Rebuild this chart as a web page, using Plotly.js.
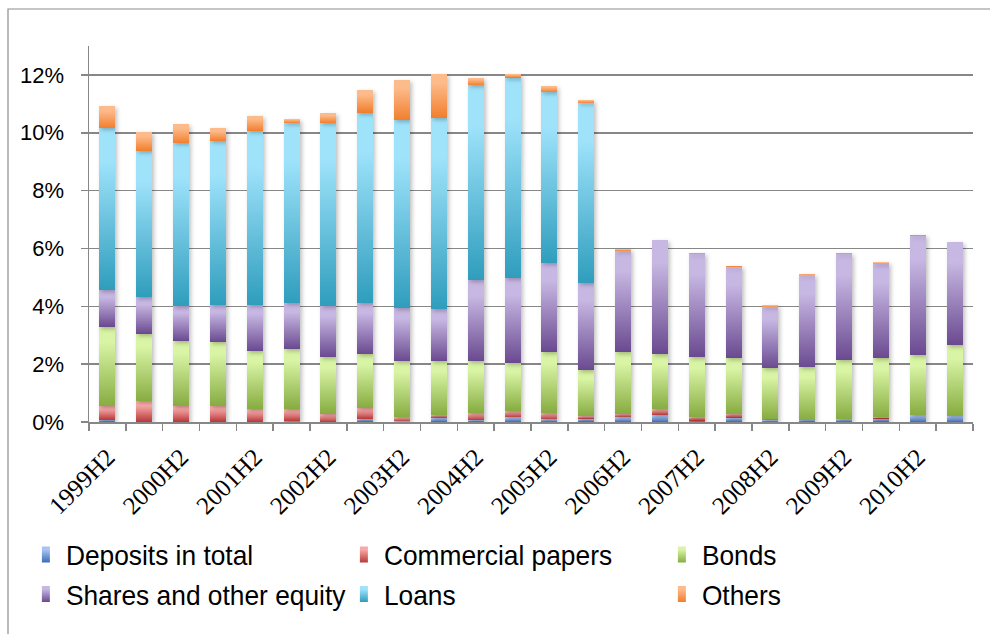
<!DOCTYPE html>
<html>
<head>
<meta charset="utf-8">
<script src="https://cdn.plot.ly/plotly-3.0.1.min.js"></script>
<style>
  html, body { margin: 0; padding: 0; background: #ffffff; }
  #chart { width: 990px; height: 634px; }
</style>
</head>
<body>
<div id="chart"></div>
<script>
// ---- Data (percent of total) ----
var categories = ['1999H2','2000H1','2000H2','2001H1','2001H2','2002H1','2002H2','2003H1','2003H2','2004H1','2004H2','2005H1',
                  '2005H2','2006H1','2006H2','2007H1','2007H2','2008H1','2008H2','2009H1','2009H2','2010H1','2010H2','2011H1'];
var tickLabels = ['1999H2','','2000H2','','2001H2','','2002H2','','2003H2','','2004H2','',
                  '2005H2','','2006H2','','2007H2','','2008H2','','2009H2','','2010H2',''];
var seriesNames = ['Deposits in total','Commercial papers','Bonds','Shares and other equity','Loans','Others'];
var deposits = [0.08,0.01,0.01,0.01,0.01,0.03,0.00,0.11,0.02,0.14,0.07,0.16,0.09,0.11,0.16,0.25,0.05,0.15,0.06,0.08,0.10,0.12,0.25,0.22];
var commercialPapers = [0.46,0.70,0.56,0.56,0.45,0.43,0.29,0.38,0.14,0.10,0.25,0.23,0.23,0.09,0.13,0.20,0.13,0.14,0.05,0.00,0.01,0.04,0.00,0.00];
var bonds = [2.76,2.34,2.23,2.20,2.00,2.07,1.96,1.87,1.95,1.87,1.79,1.66,2.11,1.60,2.14,1.91,2.08,1.93,1.76,1.81,2.04,2.06,2.08,2.45];
var shares = [1.26,1.27,1.21,1.28,1.59,1.58,1.76,1.75,1.83,1.80,2.80,2.93,3.06,3.00,3.48,3.94,3.55,3.15,2.09,3.18,3.66,3.23,4.11,3.56];
var loans = [5.60,5.05,5.62,5.66,6.01,6.22,6.32,6.59,6.49,6.60,6.73,6.93,5.91,6.22,0,0,0,0,0,0,0,0,0,0];
var others = [0.75,0.64,0.66,0.44,0.53,0.16,0.34,0.78,1.41,1.52,0.27,0.12,0.23,0.13,0.07,0.00,0.05,0.04,0.09,0.06,0.05,0.07,0.04,0.00];

// ---- Styles ----
var seriesValues = [deposits, commercialPapers, bonds, shares, loans, others];
var baseColors = ['#6f95d6','#dc6f6d','#b3d473','#9a82bd','#62c1dd','#f89d5c'];
var gradTop    = ['#a9c4f3','#f7a9a7','#d8f4a4','#c7b7e3','#9fe3fb','#fdbb8b'];
var gradBottom = ['#3a6cb8','#b8393a','#87ac41','#6a4a90','#2f9dbd','#f17e2d'];

var sans = "'Liberation Sans', Arial, sans-serif";

var data = seriesNames.map(function(name, i) {
  return {
    type: 'bar',
    name: name,
    x: categories,
    y: seriesValues[i],
    marker: { color: baseColors[i], line: { width: 0 } },
    hoverinfo: 'skip'
  };
});

var layout = {
  width: 990,
  height: 634,
  margin: { l: 89, r: 17, t: 46, b: 212 },
  paper_bgcolor: '#ffffff',
  plot_bgcolor: 'rgba(0,0,0,0)',
  barmode: 'stack',
  bargap: 0.565,
  showlegend: true,
  font: { family: sans, color: '#000000' },
  xaxis: {
    type: 'category',
    tickmode: 'array',
    tickvals: categories,
    ticktext: tickLabels,
    tickangle: -45,
    tickson: 'boundaries',
    ticks: 'outside',
    ticklen: 7,
    tickwidth: 1.5,
    tickcolor: '#878787',
    showline: true,
    linecolor: '#878787',
    linewidth: 1.5,
    showgrid: false,
    zeroline: false,
    ticklabelstandoff: 9,
    tickfont: { family: "'Liberation Serif', 'DejaVu Serif', serif", size: 25, color: '#000000' }
  },
  yaxis: {
    range: [0, 13],
    tick0: 0,
    dtick: 2,
    ticksuffix: '%',
    showgrid: true,
    gridcolor: '#878787',
    gridwidth: 1.5,
    showline: true,
    linecolor: '#878787',
    linewidth: 1.5,
    ticks: 'outside',
    ticklen: 7,
    tickwidth: 1.5,
    tickcolor: '#878787',
    zeroline: false,
    ticklabelstandoff: 12,
    tickfont: { family: sans, size: 22, color: '#000000' }
  },
  legend: {
    orientation: 'h',
    x: -0.0714,
    xanchor: 'left',
    y: -0.2867,
    yanchor: 'top',
    entrywidth: 273,
    traceorder: 'normal',
    font: { family: sans, size: 28, color: '#000000' },
    bgcolor: 'rgba(0,0,0,0)'
  },
  shapes: [{
    type: 'rect', xref: 'paper', yref: 'paper',
    x0: (8 - 89) / 884, x1: 1.2,
    y0: -0.8, y1: (422 - 9) / 376,
    line: { color: '#8c8c8c', width: 1.2 },
    fillcolor: 'rgba(0,0,0,0)',
    layer: 'below'
  }]
};

Plotly.newPlot('chart', data, layout, { staticPlot: true, displayModeBar: false }).then(function(gd) {
  var svgNS = 'http://www.w3.org/2000/svg';
  var svg = gd.querySelector('svg.main-svg');
  var defs = svg.querySelector('defs') || svg.insertBefore(document.createElementNS(svgNS, 'defs'), svg.firstChild);
  gradTop.forEach(function(c, i) {
    var lg = document.createElementNS(svgNS, 'linearGradient');
    lg.setAttribute('id', 'barGrad' + i);
    lg.setAttribute('x1', '0'); lg.setAttribute('y1', '0');
    lg.setAttribute('x2', '0'); lg.setAttribute('y2', '1');
    [[0, gradTop[i]], [0.2, gradTop[i]], [1, gradBottom[i]]].forEach(function(s) {
      var st = document.createElementNS(svgNS, 'stop');
      st.setAttribute('offset', s[0]);
      st.setAttribute('stop-color', s[1]);
      lg.appendChild(st);
    });
    defs.appendChild(lg);
  });
  var flt = document.createElementNS(svgNS, 'filter');
  flt.setAttribute('id', 'barShadow');
  flt.setAttribute('x', '-50%'); flt.setAttribute('y', '-10%');
  flt.setAttribute('width', '200%'); flt.setAttribute('height', '120%');
  var ds = document.createElementNS(svgNS, 'feDropShadow');
  ds.setAttribute('dx', '2'); ds.setAttribute('dy', '2');
  ds.setAttribute('stdDeviation', '2');
  ds.setAttribute('flood-color', '#000000');
  ds.setAttribute('flood-opacity', '0.25');
  flt.appendChild(ds);
  defs.appendChild(flt);

  gd.querySelectorAll('.barlayer .trace.bars').forEach(function(g) {
    var idx = g.__data__[0].trace.index;
    g.querySelectorAll('path').forEach(function(p) {
      p.style.fill = 'url(#barGrad' + idx + ')';
    });
    g.style.filter = 'url(#barShadow)';
  });
  gd.querySelectorAll('.legend .traces').forEach(function(g) {
    var idx = g.__data__[0].trace.index;
    g.querySelectorAll('.legendpoints path').forEach(function(p) {
      p.setAttribute('d', 'M4,8H-4V-8H4Z');
      p.style.fill = 'url(#barGrad' + idx + ')';
      p.style.stroke = 'none';
    });
    g.querySelectorAll('text.legendtext').forEach(function(t) {
      var len = t.getComputedTextLength();
      t.setAttribute('textLength', (len * 0.94).toFixed(1));
      t.setAttribute('lengthAdjust', 'spacingAndGlyphs');
    });
  });
});
</script>
</body>
</html>
